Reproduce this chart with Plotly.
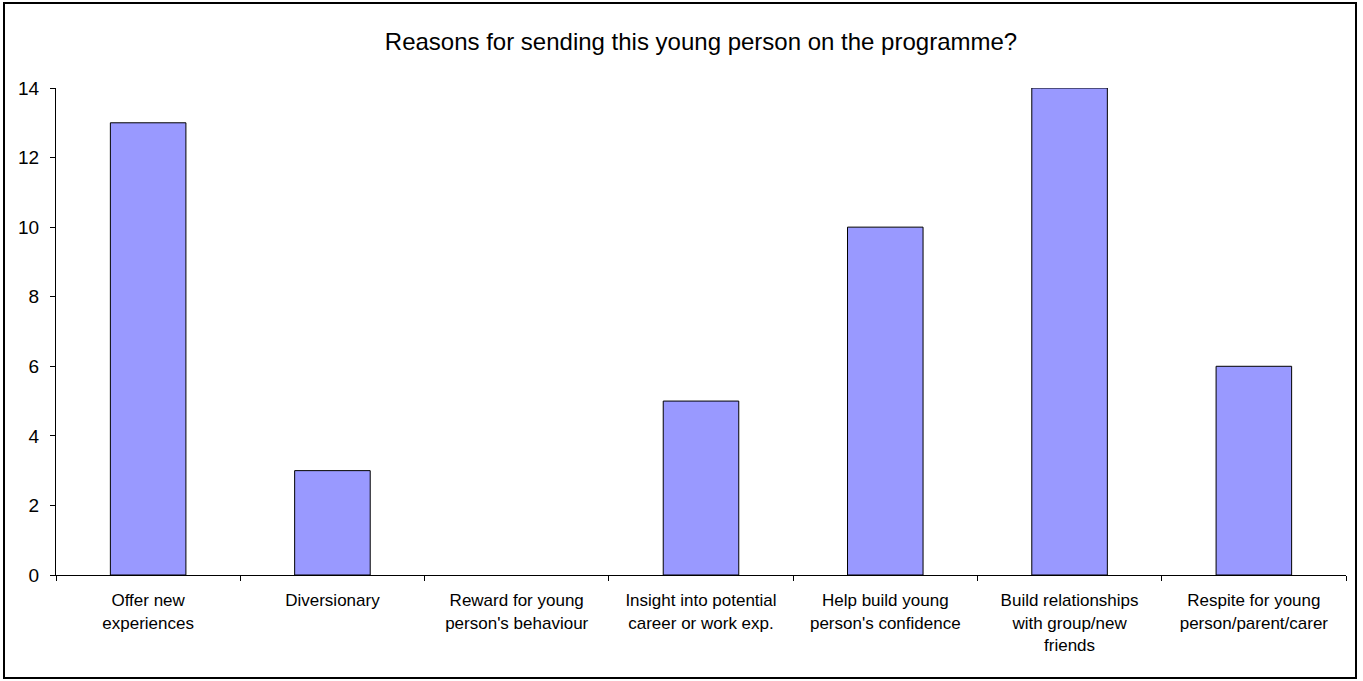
import plotly.graph_objects as go

# Survey responses: reasons given for sending the young person on the programme
categories = [
    "Offer new<br>experiences",
    "Diversionary",
    "Reward for young<br>person's behaviour",
    "Insight into potential<br>career or work exp.",
    "Help build young<br>person's confidence",
    "Build relationships<br>with group/new<br>friends",
    "Respite for young<br>person/parent/carer",
]
counts = [13, 3, 0, 5, 10, 14, 6]
y_ticks = [0, 2, 4, 6, 8, 10, 12, 14]

W, H = 1363, 681
ML, MR, MT, MB = 56, 17, 88, 106
PW, PH = W - ML - MR, H - MT - MB


def px_to_paper(x, y):
    return (x - ML) / PW, (H - MB - y) / PH


fig = go.Figure(
    go.Bar(
        x=categories,
        y=counts,
        marker=dict(
            color="#9999FF",
            line=dict(color="black", width=[1 if v > 0 else 0 for v in counts]),
        ),
        hoverinfo="x+y",
    )
)

bx0, by0 = px_to_paper(4, 3)
bx1, by1 = px_to_paper(1356, 678)

fig.update_layout(
    width=W,
    height=H,
    margin=dict(l=ML, r=MR, t=MT, b=MB),
    paper_bgcolor="white",
    plot_bgcolor="white",
    bargap=0.59,
    showlegend=False,
    font=dict(family="Liberation Sans, Arial, sans-serif", color="black", size=16),
    title=dict(
        text="Reasons for sending this young person on the programme?",
        x=0.5,
        xref="paper",
        xanchor="center",
        y=1 - 42 / H,
        yref="container",
        yanchor="middle",
        font=dict(size=24, color="black"),
    ),
    xaxis=dict(
        type="category",
        showline=True,
        linecolor="black",
        linewidth=1,
        ticks="outside",
        tickson="boundaries",
        ticklen=5,
        tickcolor="black",
        showgrid=False,
        tickfont=dict(size=17),
        ticklabelstandoff=10,
    ),
    yaxis=dict(
        range=[0, 14],
        tickvals=y_ticks,
        showline=True,
        linecolor="black",
        linewidth=1,
        ticks="outside",
        ticklen=5,
        tickcolor="black",
        showgrid=False,
        zeroline=False,
        tickfont=dict(size=19),
        ticklabelstandoff=7,
    ),
    shapes=[
        dict(
            type="rect",
            xref="paper",
            yref="paper",
            x0=bx0,
            y0=by0,
            x1=bx1,
            y1=by1,
            line=dict(color="black", width=2),
            layer="below",
        )
    ],
)

fig.write_html("out.html")
